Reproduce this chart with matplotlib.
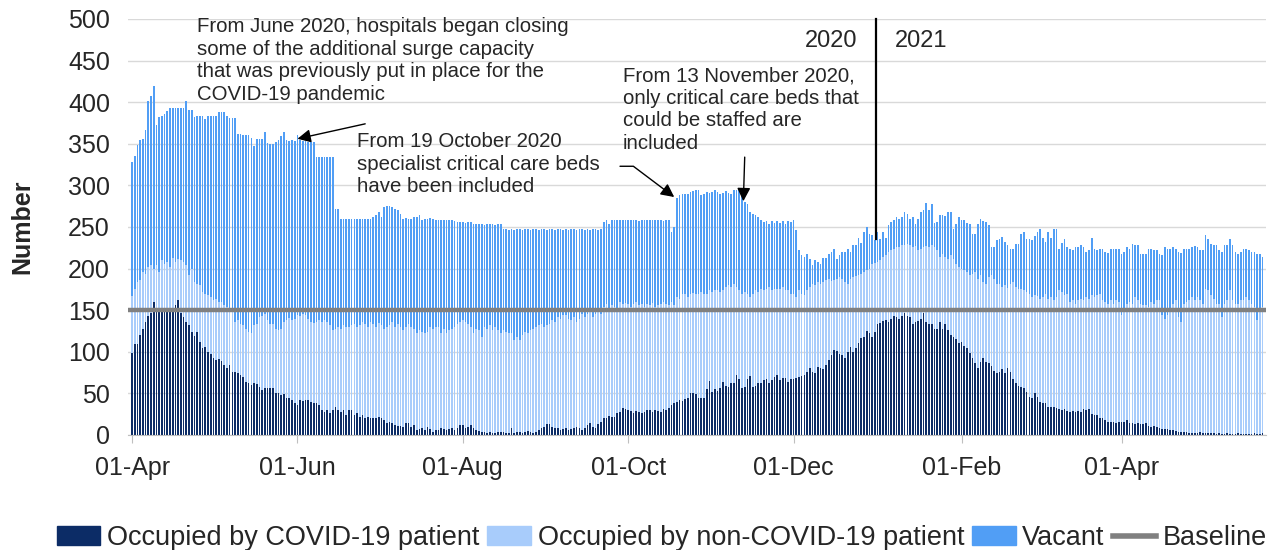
import matplotlib
matplotlib.use("Agg")
import matplotlib.pyplot as plt
import matplotlib.dates as mdates
from matplotlib.patches import Patch
from matplotlib.lines import Line2D
import numpy as np
import pandas as pd

plt.rcParams['font.family'] = ['Liberation Sans', 'DejaVu Sans']

# ---------------- data (daily, 01-Apr-2020 onwards) ----------------
start_date = "2020-04-01"

# total beds (top of each stacked bar)
capacity = [
    # Apr 2020
    328,335,349,354,356,367,401,408,419,373,382,383,386,389,393,393,393,393,393,393,401,391,391,382,383,383,384,380,384,383,
    # May
    383,383,388,388,388,383,381,381,381,362,362,361,361,360,357,347,356,356,356,364,351,350,350,352,355,359,364,355,353,355,353,
    # Jun
    360,355,353,353,352,352,352,334,334,334,334,334,334,334,272,272,260,260,260,260,260,260,260,260,260,260,260,260,262,264,
    # Jul
    268,262,274,275,275,274,272,270,266,260,261,260,260,262,262,264,258,260,260,261,260,258,258,259,258,258,258,259,257,256,256,
    # Aug
    256,255,256,256,254,254,254,254,253,254,254,254,253,254,254,248,247,246,248,246,247,248,246,247,248,246,248,247,246,248,247,
    # Sep
    246,248,247,246,248,247,246,248,246,247,248,246,247,248,246,247,246,248,247,246,247,256,258,254,258,258,259,258,258,259,
    # Oct
    258,259,258,258,257,258,259,258,258,258,259,258,258,257,258,258,244,250,285,288,290,290,290,292,293,294,295,288,290,292,291,
    # Nov
    292,294,292,290,291,293,291,290,295,295,296,290,280,278,268,266,264,262,258,256,257,254,257,255,257,255,257,254,257,256,
    # Dec
    258,246,222,216,214,217,212,204,210,208,206,213,213,218,220,224,212,216,220,220,223,220,228,228,237,231,244,250,242,240,234,
    # Jan 2021
    244,236,244,237,252,256,258,262,260,262,268,266,260,262,254,260,268,271,279,271,278,255,256,264,264,263,268,268,248,254,262,
    # Feb
    258,258,255,254,241,241,254,260,257,256,252,226,226,234,236,238,232,228,224,224,230,230,241,244,235,235,234,239,
    # Mar
    244,247,237,232,244,237,247,247,224,231,236,226,224,222,226,226,228,226,220,222,237,224,222,224,224,220,219,224,224,224,224,
    # Apr
    218,220,226,224,230,228,228,218,218,218,224,224,222,222,218,216,226,224,224,226,224,220,219,224,223,223,226,227,226,222,
    # May
    222,240,236,230,228,228,222,220,228,228,236,228,220,218,220,224,223,222,220,220,218,218,214,
]

# occupied beds (COVID + non-COVID)
occupied = [
    167,176,184,186,196,194,202,204,200,204,196,210,206,208,202,213,208,212,210,208,204,192,200,184,182,180,172,170,168,166,
    162,163,160,160,156,154,153,150,136,138,134,132,128,124,122,132,134,142,143,146,138,133,134,127,126,128,136,138,141,138,140,
    144,143,146,144,140,136,135,136,138,136,138,136,132,126,128,130,128,132,130,130,132,134,130,132,136,134,130,136,134,130,
    135,132,128,130,132,136,130,134,130,126,130,134,130,128,123,126,124,122,124,130,127,130,130,122,128,122,126,128,130,134,136,
    138,136,134,130,122,128,126,118,130,128,132,126,130,126,122,126,124,122,122,114,118,114,120,124,122,126,128,130,132,133,130,
    132,134,138,136,142,140,144,144,140,138,142,136,140,146,142,146,148,142,146,148,146,154,158,150,156,154,150,160,158,159,
    158,154,158,160,156,158,154,158,156,159,154,156,158,160,158,156,160,156,166,164,170,169,166,169,171,170,170,172,170,169,174,
    172,174,174,172,174,178,180,178,182,178,174,170,172,170,166,170,174,172,176,174,175,178,174,175,176,176,178,174,174,170,
    170,166,174,170,168,174,178,182,180,184,182,184,186,187,185,186,188,190,188,184,182,188,190,191,192,194,196,198,199,206,207,
    208,210,214,216,220,222,224,226,226,228,228,230,228,226,227,222,224,226,227,226,228,226,222,214,218,214,212,216,212,206,202,
    200,198,196,192,194,196,188,192,184,182,190,192,188,182,182,178,180,177,182,184,178,176,176,174,172,170,166,168,
    167,164,166,170,164,166,162,166,174,172,168,170,160,162,158,162,164,162,166,164,168,166,168,170,162,160,158,162,158,162,160,
    144,150,158,160,158,166,162,158,156,156,154,160,158,162,162,144,140,144,150,158,162,142,136,158,160,162,166,162,166,162,
    158,176,174,168,164,158,158,142,158,162,174,162,158,158,162,162,166,162,158,154,138,150,154,
]

# beds occupied by COVID-19 patients
covid = [
    99,109,109,120,128,136,143,147,160,149,148,148,148,148,148,150,156,162,147,142,136,132,124,119,124,112,104,106,100,97,
    93,90,91,89,84,80,84,76,76,74,72,70,64,62,60,62,61,58,54,56,57,56,56,51,50,48,49,44,45,42,38,
    36,42,41,42,42,40,38,38,36,30,28,30,26,30,34,30,28,30,24,30,30,24,26,22,24,20,22,20,20,20,
    22,21,18,14,16,14,12,11,11,10,14,15,10,12,6,7,8,6,10,7,4,6,6,8,7,6,7,8,6,8,12,
    12,8,10,12,8,6,5,4,4,3,4,3,3,4,4,4,3,3,8,3,4,4,3,4,5,4,3,4,6,8,10,
    13,13,10,8,8,6,7,8,6,7,8,10,8,6,8,12,14,10,8,13,16,20,20,23,22,22,26,28,32,31,
    30,29,27,29,28,26,28,30,30,28,30,29,28,31,30,32,36,38,40,42,41,43,45,51,50,49,45,45,45,55,65,
    52,55,53,57,64,59,58,62,62,72,67,57,58,67,71,58,59,62,62,66,67,63,66,70,72,66,68,68,64,67,
    67,68,70,71,72,76,80,76,74,82,80,79,84,90,96,102,101,97,96,92,100,106,100,104,110,116,118,125,122,118,124,
    134,135,137,138,136,140,143,142,140,143,147,143,142,133,136,137,139,147,136,134,133,128,128,136,128,133,126,120,118,115,111,
    112,107,104,99,92,86,80,88,92,88,86,83,77,75,76,79,75,80,76,67,62,59,58,56,52,46,45,51,
    46,40,39,38,34,34,34,33,31,30,31,29,28,29,28,29,28,31,30,31,25,24,24,21,20,18,16,16,16,15,16,
    16,16,18,15,14,13,14,13,13,14,11,10,11,10,8,7,7,7,6,6,5,4,4,4,4,3,3,2,2,4,
    3,2,2,2,2,1,2,1,1,2,1,1,1,2,1,1,1,1,1,2,1,1,2,
]

baseline = 150

series_labels = ["Occupied by COVID-19 patient", "Occupied by non-COVID-19 patient",
                 "Vacant", "Baseline"]
tick_dates = ["2020-04-01", "2020-06-01", "2020-08-01", "2020-10-01",
              "2020-12-01", "2021-02-01", "2021-04-01"]
year_split = "2021-01-01"

# ---------------- styling ----------------
c_covid = "#0c2c66"
c_noncovid = "#a8ccfb"
c_vacant = "#519ef5"
c_base = "#808080"
txt = "#262626"

dates = pd.date_range(start_date, periods=len(covid), freq="D")
covid_a = np.array(covid, float)
occ_a = np.array(occupied, float)
cap_a = np.array(capacity, float)

fig = plt.figure(figsize=(12.68, 5.5), dpi=100)
ax = fig.add_axes([128/1268, 1-435/550, (1266-128)/1268, 416/550])

w = 0.62
ax.bar(dates, covid_a, width=w, color=c_covid, zorder=2, linewidth=0)
ax.bar(dates, occ_a - covid_a, bottom=covid_a, width=w, color=c_noncovid, zorder=2, linewidth=0)
ax.bar(dates, cap_a - occ_a, bottom=occ_a, width=w, color=c_vacant, zorder=2, linewidth=0)
ax.axhline(baseline, color=c_base, lw=3.2, zorder=3)

one = pd.Timedelta(days=1)
ax.set_xlim(dates[0] - 1.5*one, dates[-1] + 1.3*one)
ax.set_ylim(0, 500)
ax.set_yticks(np.arange(0, 501, 50))
ax.yaxis.grid(True, color="#d9d9d9", lw=1.0, zorder=0)
ax.set_axisbelow(True)

ax.set_xticks(pd.to_datetime(tick_dates))
ax.xaxis.set_major_formatter(mdates.DateFormatter("%d-%b"))

for s in ["top", "right", "left"]:
    ax.spines[s].set_visible(False)
ax.spines["bottom"].set_color("#bfbfbf")
ax.tick_params(axis="y", length=0, labelsize=18, labelcolor=txt, pad=13)
ax.tick_params(axis="x", length=6, color="#bfbfbf", labelsize=18, labelcolor=txt, pad=9)

ax.set_ylabel("Number", fontsize=18, fontweight="bold", color=txt)
ax.yaxis.set_label_coords(-0.082, 0.5)

# year divider
split = pd.Timestamp(year_split) - 0.5*one
ax.plot([split, split], [236, 500], color="black", lw=1.6, zorder=4, clip_on=False)
ax.text(split - 7*one, 473, "2020", ha="right", va="center", fontsize=17, color=txt)
ax.text(split + 7*one, 473, "2021", ha="left", va="center", fontsize=17, color=txt)

afs = 14.7
lsp = 1.23
arrowprops = dict(arrowstyle="-|>", color="black", lw=1.0, mutation_scale=20, shrinkA=0, shrinkB=0)

ax.text(pd.Timestamp("2020-04-25"), 502,
        "From June 2020, hospitals began closing\nsome of the additional surge capacity\n"
        "that was previously put in place for the\nCOVID-19 pandemic",
        ha="left", va="top", fontsize=afs, color=txt, linespacing=lsp, clip_on=False)
ax.annotate("", xy=(pd.Timestamp("2020-06-01"), 356), xytext=(pd.Timestamp("2020-06-26"), 374),
            arrowprops=arrowprops, annotation_clip=False)

ax.text(pd.Timestamp("2020-06-23"), 364,
        "From 19 October 2020\nspecialist critical care beds\nhave been included",
        ha="left", va="top", fontsize=afs, color=txt, linespacing=lsp)
ax.annotate("", xy=(pd.Timestamp("2020-10-18"), 286), xytext=(pd.Timestamp("2020-09-28"), 323),
            arrowprops=dict(arrowprops, connectionstyle="angle,angleA=0,angleB=-37,rad=0"),
            annotation_clip=False)

ax.text(pd.Timestamp("2020-09-29"), 443,
        "From 13 November 2020,\nonly critical care beds that\ncould be staffed are\nincluded",
        ha="left", va="top", fontsize=afs, color=txt, linespacing=lsp)
ax.annotate("", xy=(pd.Timestamp("2020-11-12") + 12*pd.Timedelta(hours=1), 281),
            xytext=(pd.Timestamp("2020-11-13"), 334), arrowprops=arrowprops, annotation_clip=False)

handles = [Patch(color=c_covid), Patch(color=c_noncovid), Patch(color=c_vacant),
           Line2D([0], [0], color=c_base, lw=4)]
fig.legend(handles, series_labels, loc="center", bbox_to_anchor=(662/1268, 1-538/550),
           ncol=4, frameon=False, fontsize=19.5, handlelength=1.6, handleheight=0.7,
           handletextpad=0.25, columnspacing=0.3, borderaxespad=0, borderpad=0,
           labelcolor=txt)

fig.savefig("out.png", dpi=100)
